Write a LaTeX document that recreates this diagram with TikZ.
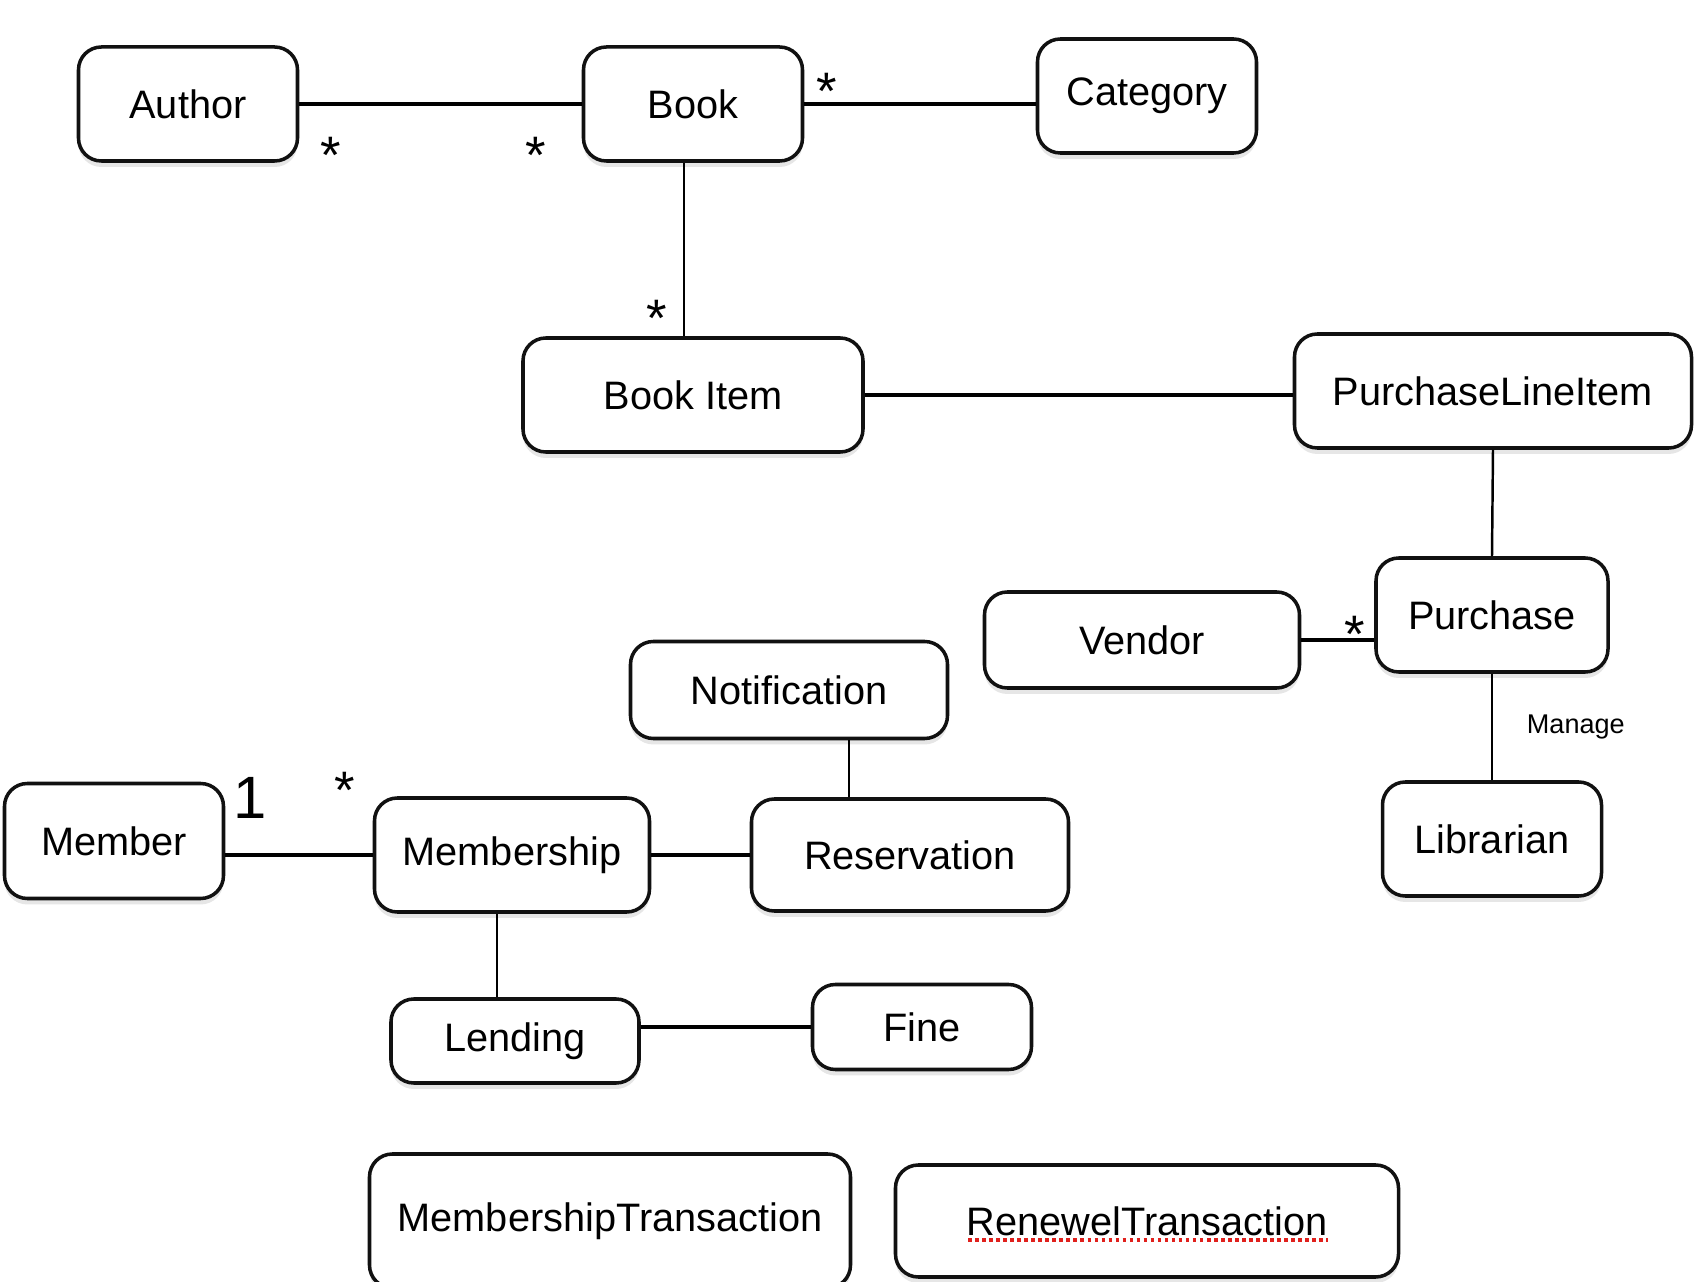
\documentclass[tikz,border=0pt]{standalone}
\usepackage{xcolor}
\usepackage{fontspec}
\setmainfont{Liberation Sans}
\usepackage{tikz}
\usetikzlibrary{positioning, calc, shadows}
\definecolor{boxStroke}{HTML}{111111}
\definecolor{lineStroke}{HTML}{000000}
\definecolor{spellRed}{HTML}{E0201C}
\tikzset{
  entity/.style={
    rectangle, rounded corners=6.5pt,
    align=center,
    minimum height=1.14cm,
    inner sep=3pt,
    draw=boxStroke, line width=1pt, fill=white,
    drop shadow={shadow xshift=0pt, shadow yshift=-0.6mm, opacity=0.2},
    font=\fontsize{11.3}{13}\selectfont
  },
  assoc/.style={lineStroke, line width=1pt},
  mult/.style={inner sep=0pt, font=\fontsize{15}{15}\selectfont},
}

\begin{document}
\begin{tikzpicture}
    \useasboundingbox (0,0) rectangle (17.02,-12.82);
    \clip (0,0) rectangle (17.02,-12.82);

    % catalogue
    \node[entity, minimum width=2.19cm] (author) at (1.88,-1.04) {Author};
    \node[entity, minimum width=2.19cm] (book) at (6.93,-1.04) {Book};
    \node[entity, minimum width=2.19cm] (category) at (11.47,-0.96) {Category};
    \node[entity, minimum width=3.40cm] (bookitem) at (6.93,-3.95) {Book Item};

    % purchasing
    \node[entity, minimum width=3.97cm] (lineitem) at (14.93,-3.91) {PurchaseLineItem};
    \node[entity, minimum width=2.32cm] (purchase) at (14.92,-6.15) {Purchase};
    \node[entity, minimum width=3.15cm, minimum height=0.96cm] (vendor) at (11.42,-6.40) {Vendor};
    \node[entity, minimum width=2.19cm] (librarian) at (14.92,-8.39) {Librarian};

    % members
    \node[entity, minimum width=3.17cm, minimum height=0.97cm] (notification) at (7.89,-6.90) {Notification};
    \node[entity, minimum width=2.19cm, minimum height=1.15cm] (member) at (1.14,-8.41) {Member};
    \node[entity, minimum width=2.75cm] (membership) at (5.12,-8.55) {Membership};
    \node[entity, minimum width=3.17cm, minimum height=1.12cm] (reservation) at (9.10,-8.55) {Reservation};
    \node[entity, minimum width=2.48cm, minimum height=0.84cm] (lending) at (5.15,-10.41) {Lending};
    \node[entity, minimum width=2.19cm, minimum height=0.85cm] (fine) at (9.22,-10.27) {Fine};

    % transactions
    \node[entity, minimum width=4.81cm, minimum height=1.34cm] (membertrans) at (6.10,-12.21) {MembershipTransaction};
    \node[entity, minimum width=5.03cm, minimum height=1.12cm] (renewtrans) at (11.47,-12.21) {RenewelTransaction};
    \draw[spellRed, densely dotted, line width=1pt]
      ($(renewtrans.center)+(-1.79,-0.19)$) -- ++(3.60,0);

    % associations
    \draw[assoc] (author) -- (book);
    \draw[assoc] (book.east) -- (book.east -| category.west);
    \draw[assoc, line width=0.7pt] ([xshift=-0.9mm]book.south) -- ([xshift=-0.9mm]book.south |- bookitem.north);
    \draw[assoc] (bookitem.east) -- (bookitem.east -| lineitem.west);
    \draw[assoc, line width=0.7pt] (lineitem.south) -- (purchase.north);
    \draw[assoc] (vendor.east) -- (vendor.east -| purchase.west);
    \draw[assoc, line width=0.7pt] (purchase.south) -- (librarian.north)
      node[midway, right=0.22cm, font=\fontsize{7.7}{9}\selectfont] {Manage};
    \draw[assoc, line width=0.7pt] ([xshift=6mm]notification.south) -- ([xshift=6mm]notification.south |- reservation.north);
    \draw[assoc] (membership.west -| member.east) -- (membership.west);
    \draw[assoc] (membership) -- (reservation);
    \draw[assoc, line width=0.7pt] ([xshift=-1.5mm]membership.south) -- ([xshift=-1.5mm]membership.south |- lending.north);
    \draw[assoc] (fine.west -| lending.east) -- (fine.west);

    % multiplicities
    \node[mult] (mAuthor) at (3.31,-1.55) {*};
    \node[mult] (mBookA) at (5.36,-1.55) {*};
    \node[mult] (mBookC) at (8.27,-0.91) {*};
    \node[mult] (mItem) at (6.57,-3.18) {*};
    \node[mult] (mVendor) at (13.55,-6.34) {*};
    \node[mult, font=\fontsize{17}{17}\selectfont] (mMember) at (2.50,-7.98) {1};
    \node[mult] (mShip) at (3.45,-7.90) {*};
\end{tikzpicture}
\end{document}
